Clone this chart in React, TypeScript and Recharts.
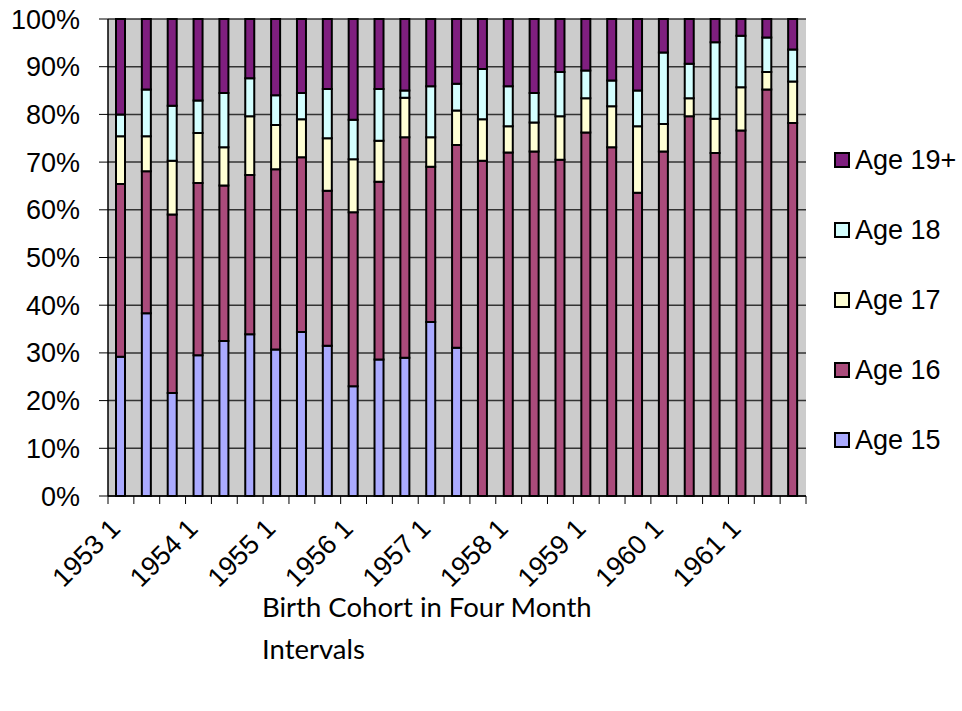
import { Bar, BarChart, CartesianGrid, XAxis, YAxis } from 'recharts';

const cohorts = [
  '1953 1', '1953 2', '1953 3', '1954 1', '1954 2', '1954 3', '1955 1', '1955 2', '1955 3',
  '1956 1', '1956 2', '1956 3', '1957 1', '1957 2', '1957 3', '1958 1', '1958 2', '1958 3',
  '1959 1', '1959 2', '1959 3', '1960 1', '1960 2', '1960 3', '1961 1', '1961 2', '1961 3',
];

// shares in percent
const age15 = [29.2, 38.3, 21.6, 29.5, 32.5, 33.9, 30.7, 34.4, 31.5, 23.0, 28.6, 29.0, 36.5, 31.1,
  0, 0, 0, 0, 0, 0, 0, 0, 0, 0, 0, 0, 0];
const age16 = [36.2, 29.8, 37.4, 36.1, 32.6, 33.4, 37.8, 36.6, 32.5, 36.5, 37.3, 46.2, 32.5, 42.5,
  70.3, 72.0, 72.2, 70.5, 76.2, 73.1, 63.6, 72.2, 79.6, 71.9, 76.6, 85.2, 78.2];
const age17 = [10.0, 7.3, 11.3, 10.5, 8.0, 12.3, 9.3, 8.0, 11.0, 11.1, 8.6, 8.3, 6.2, 7.2,
  8.7, 5.5, 6.1, 9.1, 7.2, 8.6, 13.9, 5.8, 3.8, 7.2, 9.1, 3.7, 8.7];
const age18 = [4.6, 9.8, 11.5, 6.8, 11.4, 8.0, 6.2, 5.5, 10.3, 8.3, 10.8, 1.5, 10.7, 5.6,
  10.5, 8.4, 6.2, 9.3, 5.8, 5.4, 7.5, 15.0, 7.2, 16.0, 10.8, 7.2, 6.7];
const age19 = [20.0, 14.8, 18.2, 17.1, 15.5, 12.4, 16.0, 15.5, 14.7, 21.1, 14.7, 15.0, 14.1, 13.6,
  10.5, 14.1, 15.5, 11.1, 10.8, 12.9, 15.0, 7.0, 9.4, 4.9, 3.5, 3.9, 6.4];

const series = [
  { key: 'age15', name: 'Age 15', color: '#AAAAFF', values: age15 },
  { key: 'age16', name: 'Age 16', color: '#AA4B7B', values: age16 },
  { key: 'age17', name: 'Age 17', color: '#FFFFD4', values: age17 },
  { key: 'age18', name: 'Age 18', color: '#D4FFFF', values: age18 },
  { key: 'age19', name: 'Age 19+', color: '#7F1F7F', values: age19 },
];

const yTicks = [0, 0.1, 0.2, 0.3, 0.4, 0.5, 0.6, 0.7, 0.8, 0.9, 1];

const rows = cohorts.map((cohort, i) => {
  const row: Record<string, string | number> = { cohort };
  series.forEach((s) => { row[s.key] = s.values[i]; });
  return row;
});

const W = 962;
const H = 711;
const M = { top: 19, right: 156, bottom: 65, left: 0 };
const Y_AXIS_W = 108;
const X_AXIS_H = 150;
const PLOT_W = W - M.left - M.right - Y_AXIS_W;
const FONT = '"Liberation Sans", Arial, sans-serif';

function CohortTick(props: any) {
  const { x, y, payload, index } = props;
  const band = PLOT_W / cohorts.length;
  const isLast = index === cohorts.length - 1;
  const lx = x + 1;
  const ly = y + 34;
  return (
    <g>
      <line x1={x - band / 2} x2={x - band / 2} y1={y} y2={y + 8} stroke="#000" />
      {isLast && <line x1={x + band / 2} x2={x + band / 2} y1={y} y2={y + 8} stroke="#000" />}
      {index % 3 === 0 && (
        <text
          x={lx}
          y={ly}
          transform={`rotate(-45 ${lx} ${ly})`}
          textAnchor="end"
          fontSize={27}
          fontFamily={FONT}
          fill="#000"
        >
          {payload.value}
        </text>
      )}
    </g>
  );
}

export default function App() {
  return (
    <div style={{ position: 'absolute', left: 0, top: 0, width: W, height: H, background: '#fff' }}>
      <BarChart width={W} height={H} data={rows} margin={M} stackOffset="expand" barSize={9}>
        <CartesianGrid vertical={false} fill="#CCCCCC" stroke="#333" strokeWidth={1.5} />
        <XAxis
          dataKey="cohort"
          height={X_AXIS_H}
          interval={0}
          tickSize={0}
          tickMargin={0}
          tickLine={false}
          axisLine={{ stroke: '#000', strokeWidth: 1.5 }}
          tick={<CohortTick />}
        />
        <YAxis
          width={Y_AXIS_W}
          domain={[0, 1]}
          ticks={yTicks}
          tickFormatter={(v) => `${Math.round(Number(v) * 100)}%`}
          tickSize={9}
          tickMargin={19}
          axisLine={{ stroke: '#000', strokeWidth: 1.5 }}
          tickLine={{ stroke: '#000' }}
          tick={{ fontSize: 27, fontFamily: FONT, fill: '#000' }}
        />
        <YAxis
          yAxisId="frame"
          orientation="right"
          width={0}
          tick={false}
          tickLine={false}
          axisLine={{ stroke: '#A0A0A0', strokeWidth: 2 }}
        />
        {series.map((s) => (
          <Bar
            key={s.key}
            dataKey={s.key}
            name={s.name}
            stackId="a"
            fill={s.color}
            stroke="#000"
            strokeWidth={2}
            isAnimationActive={false}
          />
        ))}
      </BarChart>
      <div style={{ position: 'absolute', left: 834, top: 125, fontFamily: FONT, fontSize: 27 }}>
        {[...series].reverse().map((s) => (
          <div key={s.key} style={{ display: 'flex', alignItems: 'center', height: 70 }}>
            <span
              style={{
                width: 12,
                height: 12,
                background: s.color,
                border: '2px solid #000',
                marginRight: 5,
                boxSizing: 'content-box',
              }}
            />
            <span>{s.name}</span>
          </div>
        ))}
      </div>
      <div
        style={{
          position: 'absolute',
          left: 262,
          top: 586,
          fontFamily: 'Lato, "Open Sans", sans-serif',
          fontSize: 27.5,
          lineHeight: '42px',
          width: 380,
        }}
      >
        Birth Cohort in Four Month Intervals
      </div>
    </div>
  );
}
